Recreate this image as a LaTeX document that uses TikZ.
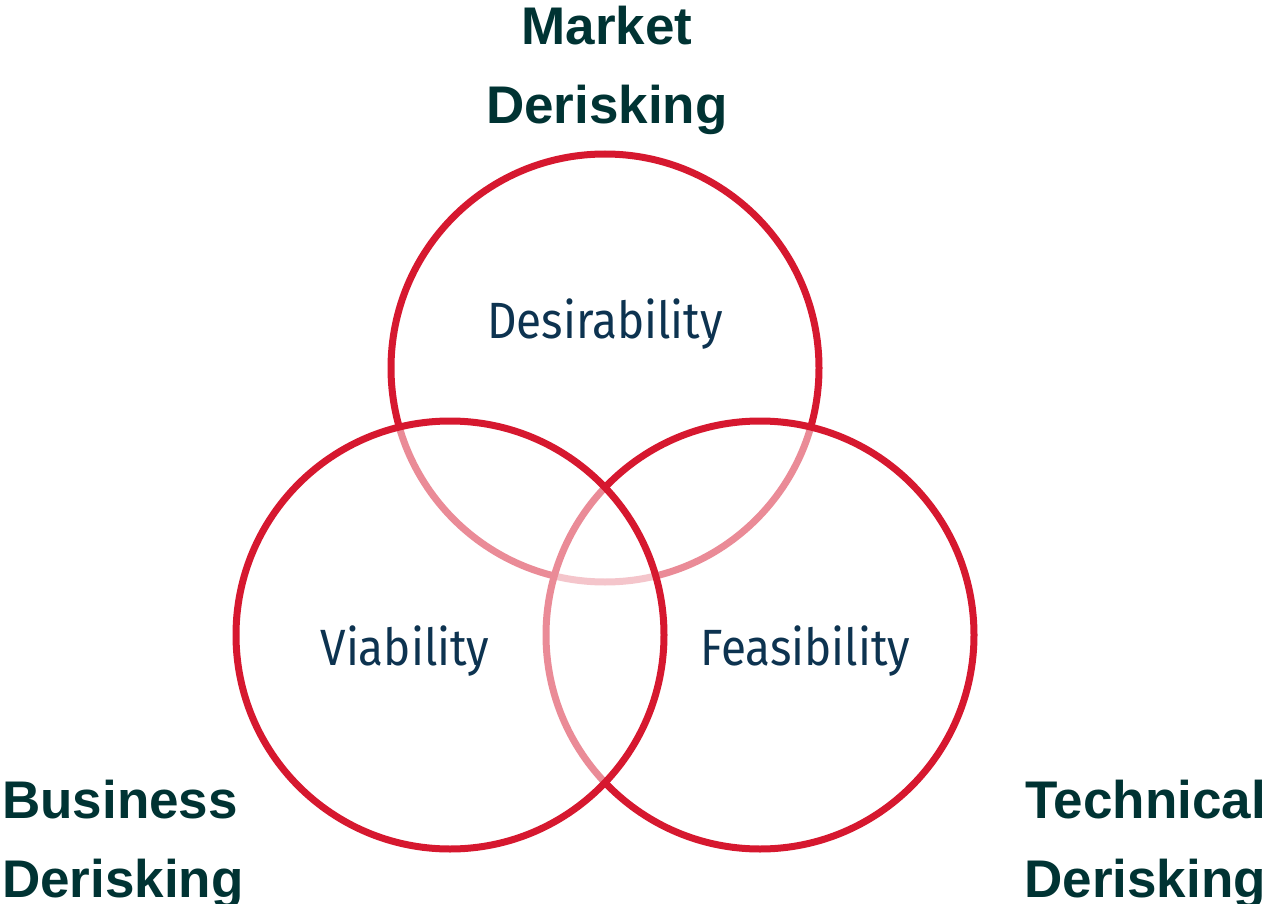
\documentclass[tikz,border=0pt]{standalone}
\usepackage{fontspec}
\setmainfont{Liberation Sans}
\newfontfamily\dinfont[FakeStretch=0.9]{Fira Sans}
\usetikzlibrary{positioning}
\definecolor{RiskRed}{HTML}{D6182F}
\definecolor{DeepTeal}{HTML}{003333}
\definecolor{Navy}{HTML}{0D3350}

\begin{document}
\begin{tikzpicture}[x=1pt,y=-1pt,
    ring/.style={draw=RiskRed,line width=7pt},
    veil/.style={ring,fill=white,fill opacity=0.5},
    area/.style={anchor=base,text=Navy,font=\dinfont\fontsize{51}{60}\selectfont},
    risk/.style={anchor=base,text=DeepTeal,align=#1,inner sep=0pt,
      font=\bfseries\fontsize{53}{79}\selectfont},
  ]
  \useasboundingbox (0,0) rectangle (1266,904);
  % three circles, later ones fade what lies under them
  \draw[ring] (605,368) circle[radius=214];
  \draw[veil] (760,635) circle[radius=214];
  \draw[veil] (450,635) circle[radius=214];
  \node[area] (des) at (605,338) {Desirability};
  \node[area] (via) at (405,665) {Viability};
  \node[area] (fea) at (805,665) {Feasibility};
  % base of a two-line node sits on its last line
  \node[risk=center] (mkt) at (607,124) {Market\\Derisking};
  \node[risk=left,anchor=base west] (bus) at (2,897) {Business\\Derisking};
  \node[risk=right,anchor=base east] (tec) at (1266,897) {Technical\\Derisking};
\end{tikzpicture}
\end{document}
